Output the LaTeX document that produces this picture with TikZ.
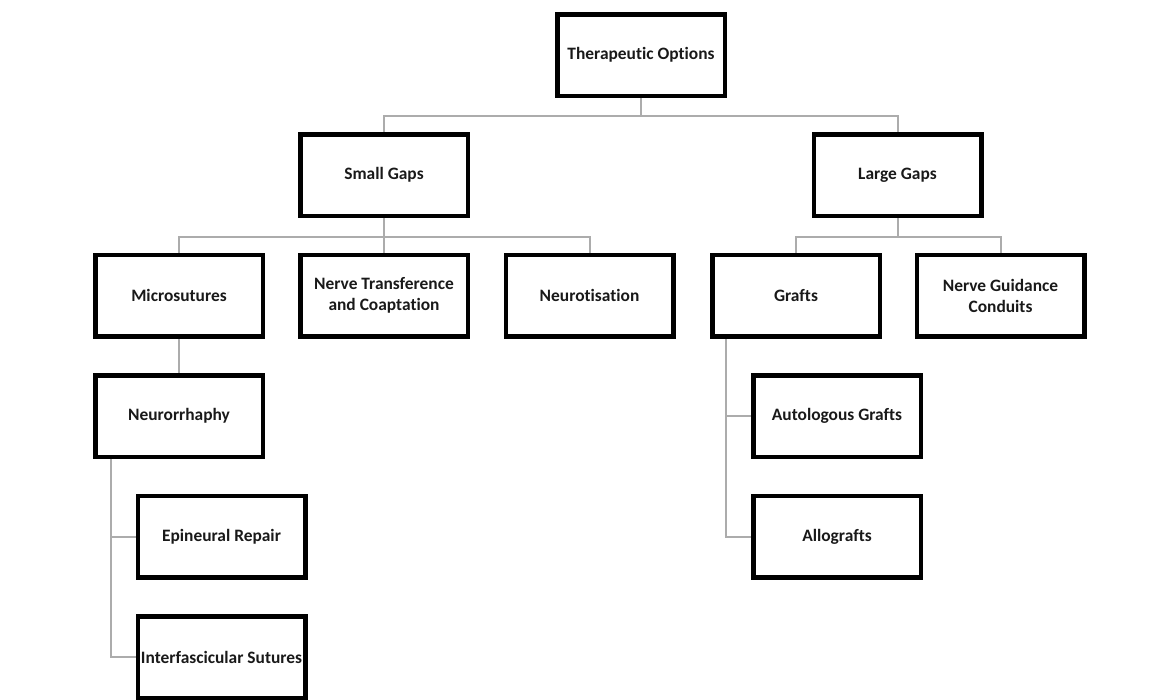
\documentclass[tikz,border=0pt]{standalone}
\usepackage{fontspec}
\setmainfont{Carlito}[Ligatures={NoCommon}]
\usetikzlibrary{backgrounds}
\definecolor{conngray}{RGB}{172,172,172}
\tikzset{
  box/.style={draw=black, line width=4.5pt, rectangle, minimum width=167.5pt, minimum height=81.5pt,
    inner sep=0pt, align=center, font=\fontsize{17.4pt}{21pt}\selectfont\bfseries, text=black!90},
  conn/.style={draw=conngray, line width=2pt},
}
\begin{document}
\begin{tikzpicture}[x=1pt,y=-1pt]
\useasboundingbox (0,0) rectangle (1164,699);
\node[box] (top) at (641,55) {Therapeutic Options};
\node[box] (small) at (384,175) {Small Gaps};
\node[box] (large) at (897.5,175) {Large Gaps};
\node[box] (micro) at (179,295.5) {Microsutures};
\node[box] (ntc) at (384,295.5) {Nerve Transference\\and Coaptation};
\node[box] (neurot) at (589.5,295.5) {Neurotisation};
\node[box] (grafts) at (796,295.5) {Grafts};
\node[box] (ngc) at (1000.5,295.5) {Nerve Guidance\\Conduits};
\node[box] (neuro) at (179,416) {Neurorrhaphy};
\node[box] (epi) at (221.5,536.5) {Epineural Repair};
\node[box] (inter) at (221.5,657) {Interfascicular Sutures};
\node[box] (auto) at (837,416) {Autologous Grafts};
\node[box] (allo) at (837,536.5) {Allografts};
\coordinate (nb) at (111,457);
\coordinate (gb) at (726,336);
\begin{scope}[on background layer]
\draw[conn] (top.south) -- ++(0,18) -| (small.north);
\draw[conn] (top.south) -- ++(0,18) -| (large.north);
\draw[conn] (small.south) -- ++(0,19) -| (micro.north);
\draw[conn] (small.south) -- (ntc.north);
\draw[conn] (small.south) -- ++(0,19) -| (neurot.north);
\draw[conn] (large.south) -- ++(0,19) -| (grafts.north);
\draw[conn] (large.south) -- ++(0,19) -| (ngc.north);
\draw[conn] (micro.south) -- (neuro.north);
\draw[conn] (nb) |- (epi.west);
\draw[conn] (nb) |- (inter.west);
\draw[conn] (gb) |- (auto.west);
\draw[conn] (gb) |- (allo.west);
\end{scope}
\end{tikzpicture}
\end{document}
